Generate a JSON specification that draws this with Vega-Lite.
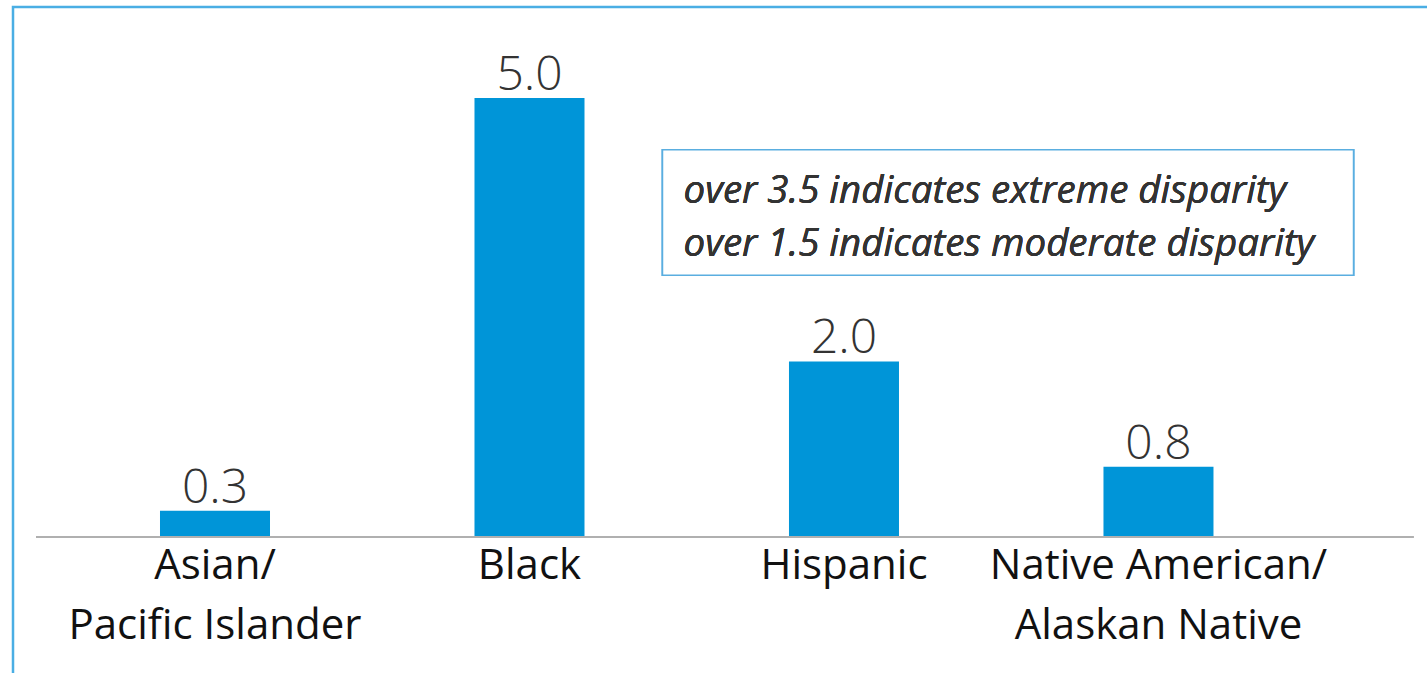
{
  "$schema": "https://vega.github.io/schema/vega-lite/v6.json",
  "usermeta": {"embedOptions": {"actions": false}},
  "autosize": {"type": "none"},
  "width": 1460,
  "height": 700,
  "padding": {"left": 13, "top": 7, "right": -46, "bottom": -34},
  "background": "white",
  "config": {
    "view": {"stroke": "#4aaee4", "strokeWidth": 2.5},
    "font": "Open Sans"
  },
  "data": {
    "values": [
      {"group": "Asian/Pacific Islander", "ratio": 0.3},
      {"group": "Black", "ratio": 5.0},
      {"group": "Hispanic", "ratio": 2.0},
      {"group": "Native American/Alaskan Native", "ratio": 0.8}
    ]
  },
  "encoding": {
    "x": {
      "field": "group",
      "type": "nominal",
      "sort": null,
      "scale": {"paddingInner": 0.6502, "paddingOuter": 0.6463, "align": 0.3616},
      "axis": {
        "title": null,
        "orient": "bottom",
        "offset": -170,
        "domain": false,
        "ticks": false,
        "labelAngle": 0,
        "labelFont": "Open Sans",
        "labelFontSize": 42,
        "labelColor": "#111111",
        "labelPadding": 8,
        "labelLineHeight": 60,
        "labelBaseline": "top",
        "labelLimit": 0,
        "labelOverlap": false,
        "labelExpr": "split(replace(datum.label, '/', '/|'), '|')"
      }
    },
    "y": {
      "field": "ratio",
      "type": "quantitative",
      "scale": {"domain": [-1.936, 6.036], "nice": false, "zero": false},
      "axis": null
    }
  },
  "layer": [
    {
      "mark": {"type": "bar", "color": "#0095d8"},
      "encoding": {}
    },
    {
      "mark": {"type": "rule", "color": "#b0b0b0", "strokeWidth": 2},
      "encoding": {
        "x": {"datum": "Asian/Pacific Islander", "bandPosition": -1.127},
        "x2": {"datum": "Native American/Alaskan Native", "bandPosition": 2.818},
        "y": {"datum": 0}
      }
    },
    {
      "mark": {"type": "text", "baseline": "alphabetic", "dy": -8, "fontSize": 48, "fontWeight": 300, "color": "#333333", "font": "Open Sans"},
      "encoding": {
        "text": {"field": "ratio", "type": "quantitative", "format": ".1f"}
      }
    },
    {
      "mark": {"type": "rect", "fill": "white", "stroke": "#5aaee0", "strokeWidth": 1.5},
      "encoding": {
        "x": {"datum": "Black", "bandPosition": 1.709},
        "x2": {"datum": "Native American/Alaskan Native", "bandPosition": 2.273},
        "y": {"datum": 4.41},
        "y2": {"datum": 2.98}
      }
    },
    {
      "mark": {"type": "text", "align": "left", "baseline": "middle", "fontSize": 38.5, "fontStyle": "italic", "color": "#333333", "lineHeight": 53, "font": "Open Sans"},
      "encoding": {
        "x": {"datum": "Black", "bandPosition": 1.9},
        "y": {"datum": 3.94},
        "text": {"value": ["over 3.5 indicates extreme disparity", "over 1.5 indicates moderate disparity"]}
      }
    }
  ]
}
